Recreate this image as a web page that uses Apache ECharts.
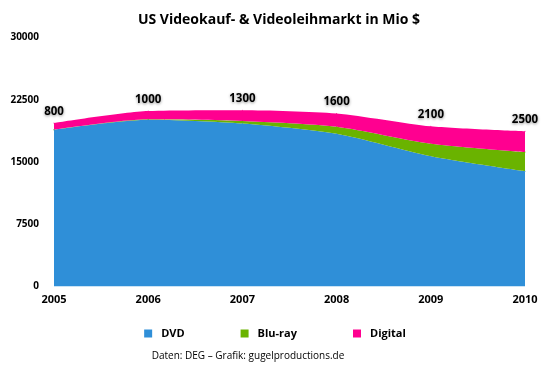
<!DOCTYPE html>
<html><head><meta charset="utf-8">
<script src="https://cdn.jsdelivr.net/npm/echarts@6/dist/echarts.min.js"></script>
<style>html,body{margin:0;padding:0;background:#fff}#c{width:550px;height:373px}</style>
</head><body><div id="c"></div>
<script>
const years = ['2005','2006','2007','2008','2009','2010'];
const dvd = [18900, 20100, 19650, 18400, 15700, 13900];
const bluray = [0, 50, 300, 850, 1500, 2300];
const digital = [800, 1000, 1300, 1600, 2100, 2500];
const yTicks = [0, 7500, 15000, 22500, 30000];
const source = 'Daten: DEG – Grafik: gugelproductions.de';

const FONT = '"Open Sans", "DejaVu Sans", sans-serif';
const chart = echarts.init(document.getElementById('c'), null, {renderer:'canvas'});
const mk = (name, data, color, label) => ({
  name, type:'line', stack:'total', data, smooth:0.25, symbol:'circle', symbolSize:1, showSymbol:true,
  lineStyle:{width:0}, areaStyle:{color:color, opacity:1}, itemStyle:{color:color},
  label: label ? {show:true, position:'top', distance:5, color:'#000', fontWeight:'bold', fontSize:11.5, fontFamily:FONT,
    textShadowColor:'rgba(0,0,0,0.45)', textShadowBlur:3, textShadowOffsetY:1} : {show:false}
});
chart.setOption({
  animation:false,
  title:[{text:'US Videokauf- & Videoleihmarkt in Mio $', left:274, textAlign:'center', top:8,
    textStyle:{fontSize:14, fontWeight:'bold', fontFamily:FONT, color:'#000'}},
    {text:source, left:243, textAlign:'center', top:346, textStyle:{fontSize:10, fontWeight:'normal', fontFamily:FONT, color:'#000'}}],
  grid:{left:54, right:25, top:37.5, bottom:86.5},
  legend:{top:323, left:'center', itemWidth:8, itemHeight:8, itemGap:56, icon:'rect',
    textStyle:{fontSize:11, fontWeight:'bold', fontFamily:FONT, color:'#000', padding:[0,0,0,4]},
    data:['DVD','Blu-ray','Digital']},
  xAxis:{type:'category', data:years, boundaryGap:false, axisLine:{show:false}, axisTick:{show:false},
    axisLabel:{color:'#000', fontWeight:'bold', fontSize:11, fontFamily:FONT, margin:8}},
  yAxis:{type:'value', min:yTicks[0], max:yTicks[yTicks.length-1], interval:7500, splitLine:{show:false},
    axisLine:{show:false}, axisTick:{show:false},
    axisLabel:{color:'#000', fontWeight:'bold', fontSize:10, fontFamily:FONT, margin:15, formatter:(v)=>String(v)}},
  series:[mk('DVD', dvd, '#2f8fd8', false), mk('Blu-ray', bluray, '#6ab300', false), mk('Digital', digital, '#ff0090', true)]
});
</script></body></html>
